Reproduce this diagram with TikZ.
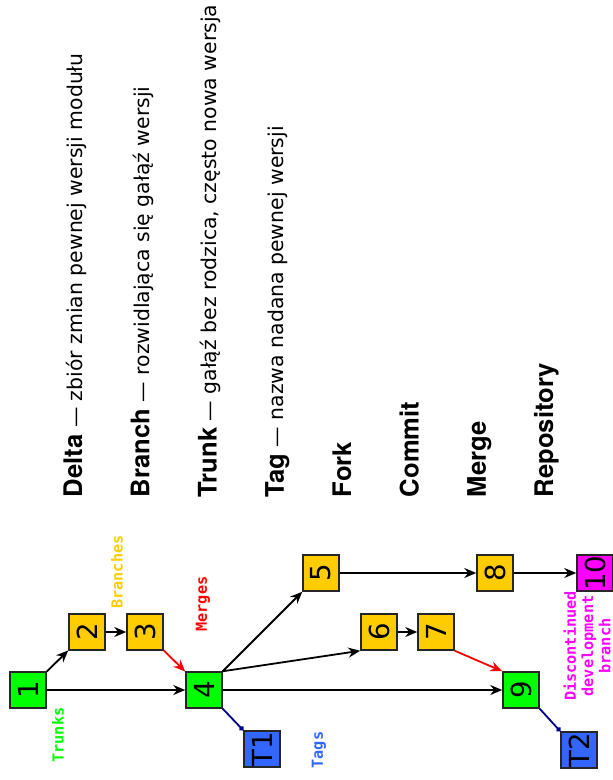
\documentclass[tikz,border=0pt]{standalone}
\usepackage{fontspec}
\setmainfont{DejaVu Sans}
\newfontfamily\termfont{TeX Gyre Heros}
\newfontfamily\pixfont{DejaVu Sans Mono}
\usetikzlibrary{arrows.meta}

\definecolor{trunkgreen}{RGB}{0,255,0}
\definecolor{branchyellow}{RGB}{255,204,0}
\definecolor{tagblue}{RGB}{51,102,255}
\definecolor{tagline}{RGB}{0,0,140}
\definecolor{deadpink}{RGB}{255,0,255}
\definecolor{mergered}{RGB}{255,0,0}

\newcommand{\term}[1]{{\termfont\bfseries\fontsize{12.8}{15}\selectfont #1}}
\newcommand{\expl}[1]{{\fontsize{10.2}{12}\selectfont\ --- #1}}

\begin{document}
\begin{tikzpicture}[->, >={Stealth[length=6pt,width=5pt]}, x=0.5pt, y=-0.5pt, line width=0.9pt]
\tikzstyle{rev} = [draw=black!85, line width=0.75pt, minimum size=18pt, inner sep=0pt, font=\fontsize{13.8}{14}\selectfont]
\tikzstyle{trunk} = [rev, fill=trunkgreen]
\tikzstyle{branch} = [rev, fill=branchyellow]
\tikzstyle{tag} = [rev, fill=tagblue]
\tikzstyle{dead} = [rev, fill=deadpink]
\tikzstyle{legend} = [rotate=90, inner sep=0pt, font=\pixfont\bfseries\fontsize{7.6}{8.6}\selectfont]
\tikzstyle{line} = [rotate=90, anchor=base west, inner sep=0pt]
\tikzstyle{edge} = [draw=black]
\tikzstyle{merge} = [draw=mergered]
\tikzstyle{tagedge} = [draw=tagline, -{Circle[length=2.5pt]}]

\useasboundingbox (0,0) rectangle (612,780);

\node[trunk] (n1) at (28,690) {\rotatebox{90}{1}};
\node[branch] (n2) at (87,632) {\rotatebox{90}{2}};
\node[branch] (n3) at (145,632) {\rotatebox{90}{3}};
\node[trunk] (n4) at (204,690) {\rotatebox{90}{4}};
\node[tag] (t1) at (262,749) {\rotatebox{90}{T1}};
\node[branch] (n5) at (321,573) {\rotatebox{90}{5}};
\node[branch] (n6) at (379,632) {\rotatebox{90}{6}};
\node[branch] (n7) at (436,632) {\rotatebox{90}{7}};
\node[branch] (n8) at (495,573) {\rotatebox{90}{8}};
\node[trunk] (n9) at (521,690) {\rotatebox{90}{9}};
\node[tag] (t2) at (579,750) {\rotatebox{90}{T2}};
\node[dead] (n10) at (595,573) {\rotatebox{90}{10}};

\node[legend, text=trunkgreen] (trunks) at (58,735) {Trunks};
\node[legend, text=branchyellow] (branches) at (117,572) {Branches};
\node[legend, text=mergered] (merges) at (203,604) {Merges};
\node[legend, text=tagblue] (tags) at (319,750) {Tags};
\node[legend, text=deadpink, align=center] (discont) at (587,646) {Discontinued\\development\\branch};

\node[line] (delta) at (82,498) {\term{Delta}\expl{zbiór zmian pewnej wersji modułu}};
\node[line] (branch) at (149.3,498) {\term{Branch}\expl{rozwidlająca się gałąź wersji}};
\node[line] (trunk) at (216.6,498) {\term{Trunk}\expl{gałąź bez rodzica, często nowa wersja}};
\node[line] (tagdef) at (283.9,498) {\term{Tag}\expl{nazwa nadana pewnej wersji}};
\node[line] (fork) at (351.2,498) {\term{Fork}};
\node[line] (commit) at (418.5,498) {\term{Commit}};
\node[line] (mergedef) at (485.8,498) {\term{Merge}};
\node[line] (repo) at (553.1,498) {\term{Repository}};

\draw[edge] (n1) -- (n2);
\draw[edge] (n1) -- (n4);
\draw[edge] (n2) -- (n3);
\draw[merge] (n3) -- (n4);
\draw[edge] (n4) -- (n5);
\draw[edge] (n4.north east) -- (n6.south west);
\draw[edge] (n4) -- (n9);
\draw[edge] (n5) -- (n8);
\draw[edge] (n8) -- (n10);
\draw[edge] (n6) -- (n7);
\draw[merge] (n7.south east) -- (n9.north west);
\draw[tagedge] (n4.south east) -- (t1.north west);
\draw[tagedge] (n9.south east) -- (t2.north west);
\end{tikzpicture}
\end{document}
